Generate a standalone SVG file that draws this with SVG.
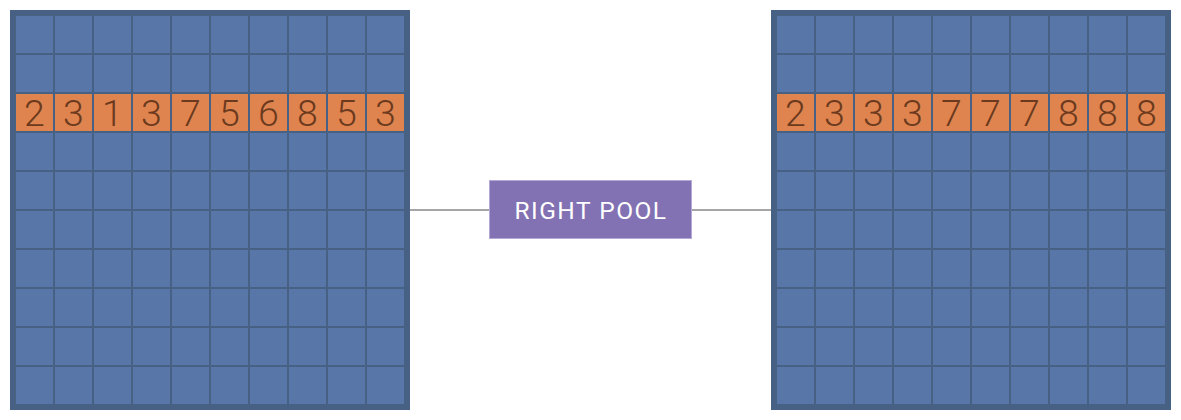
<svg xmlns="http://www.w3.org/2000/svg" width="1181" height="420" viewBox="0 0 1181 420">
<defs>
<style>
.frame{fill:#476185}
.inner{fill:#5877a8}
.o{fill:#e0844f}
.gl{stroke:#476185;stroke-width:2;fill:none}
.d{font-family:Roboto,"Liberation Sans",sans-serif;font-weight:300;font-size:37.5px;fill:#6b3a1e;text-anchor:middle}
.lbl{font-family:Roboto,"Liberation Sans",sans-serif;font-size:24.5px;letter-spacing:1.5px;fill:#ffffff;text-anchor:middle}
.conn{stroke:#888888;stroke-width:1.5;fill:none}
</style>
</defs>
<g id="connectors">
<line class="conn" x1="410" y1="210" x2="489" y2="210"/>
<line class="conn" x1="692" y1="210" x2="771" y2="210"/>
</g>
<g id="left-grid">
<rect class="frame" x="10" y="10" width="400" height="400"/>
<rect class="inner" x="16" y="16" width="388" height="388"/>
<rect class="o" x="16" y="94" width="388" height="37"/>
<path class="gl" d="M54 16V404M93 16V404M132 16V404M171 16V404M210 16V404M249 16V404M288 16V404M327 16V404M366 16V404M16 54H404M16 93H404M16 132H404M16 171H404M16 210H404M16 249H404M16 288H404M16 327H404M16 366H404"/>
<text class="d" x="34.5" y="126">2</text>
<text class="d" x="73.5" y="126">3</text>
<text class="d" x="112.5" y="126">1</text>
<text class="d" x="151.5" y="126">3</text>
<text class="d" x="190.5" y="126">7</text>
<text class="d" x="229.5" y="126">5</text>
<text class="d" x="268.5" y="126">6</text>
<text class="d" x="307.5" y="126">8</text>
<text class="d" x="346.5" y="126">5</text>
<text class="d" x="385.5" y="126">3</text>
</g>
<g id="right-pool">
<rect x="489.5" y="180.5" width="202" height="58" fill="#8272b4" stroke="#b3a9d6" stroke-width="1"/>
<text class="lbl" x="591" y="219">RIGHT POOL</text>
</g>
<g id="right-grid">
<rect class="frame" x="771" y="10" width="400" height="400"/>
<rect class="inner" x="777" y="16" width="388" height="388"/>
<rect class="o" x="777" y="94" width="388" height="37"/>
<path class="gl" d="M815 16V404M854 16V404M893 16V404M932 16V404M971 16V404M1010 16V404M1049 16V404M1088 16V404M1127 16V404M777 54H1165M777 93H1165M777 132H1165M777 171H1165M777 210H1165M777 249H1165M777 288H1165M777 327H1165M777 366H1165"/>
<text class="d" x="795.5" y="126">2</text>
<text class="d" x="834.5" y="126">3</text>
<text class="d" x="873.5" y="126">3</text>
<text class="d" x="912.5" y="126">3</text>
<text class="d" x="951.5" y="126">7</text>
<text class="d" x="990.5" y="126">7</text>
<text class="d" x="1029.5" y="126">7</text>
<text class="d" x="1068.5" y="126">8</text>
<text class="d" x="1107.5" y="126">8</text>
<text class="d" x="1146.5" y="126">8</text>
</g>
</svg>
